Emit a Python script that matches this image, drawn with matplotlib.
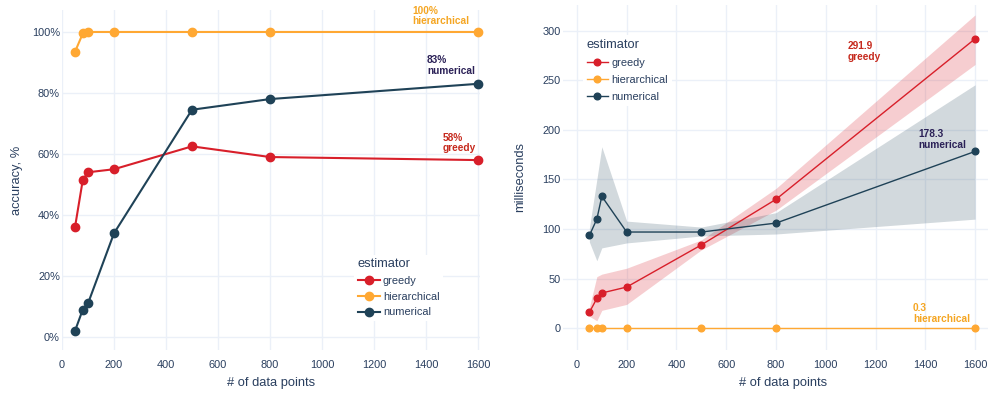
import matplotlib
matplotlib.use("Agg")
import matplotlib.pyplot as plt
from matplotlib.ticker import FuncFormatter

plt.rcParams['font.family'] = ['Liberation Sans', 'DejaVu Sans']

# ---- data -------------------------------------------------------------
n_points = [50, 80, 100, 200, 500, 800, 1600]

acc_greedy = [36.0, 51.5, 54.0, 55.0, 62.5, 59.0, 58.0]
acc_hierarchical = [93.5, 99.5, 100.0, 100.0, 100.0, 100.0, 100.0]
acc_numerical = [2.0, 9.0, 11.0, 34.0, 74.5, 78.0, 83.0]

ms_greedy = [16.0, 30.0, 35.5, 41.5, 84.0, 130.0, 291.9]
ms_greedy_lo = [12.0, 7.5, 18.0, 24.0, 79.0, 119.0, 266.0]
ms_greedy_hi = [21.0, 52.0, 54.5, 60.5, 89.0, 141.0, 316.0]

ms_hierarchical = [0.3, 0.3, 0.3, 0.3, 0.3, 0.3, 0.3]

ms_numerical = [93.5, 110.0, 133.0, 97.0, 97.0, 106.0, 178.3]
ms_numerical_lo = [87.0, 68.0, 81.0, 86.0, 93.0, 95.0, 110.0]
ms_numerical_hi = [101.0, 150.0, 183.0, 108.0, 102.0, 116.5, 245.5]

series_names = ["greedy", "hierarchical", "numerical"]

# ---- styling ----------------------------------------------------------
C_RED = "#d81f2a"
C_ORANGE = "#ffa833"
C_NAVY = "#1f4257"
C_TXT = "#2a3f5f"
C_GRID = "#ebf0f8"
ANN_COLORS = {"greedy": "#c62a1e", "hierarchical": "#f5a623", "numerical": "#2b2157"}

W, H = 990, 395
fig = plt.figure(figsize=(W / 100, H / 100), dpi=100)


def px_box(x0, y0, x1, y1):
    return [x0 / W, 1 - y1 / H, (x1 - x0) / W, (y1 - y0) / H]


def style_axes(ax):
    for s in ax.spines.values():
        s.set_visible(False)
    ax.grid(True, color=C_GRID, linewidth=1.0)
    ax.set_axisbelow(True)
    ax.tick_params(length=0, labelsize=7.9, labelcolor=C_TXT)
    ax.tick_params(axis='x', pad=7)
    ax.tick_params(axis='y', pad=1.5)
    ax.set_xticks(range(0, 1601, 200))


def add_legend(ax, handles, anchor_px, spacing, hlen, tpad):
    leg = ax.legend(handles=handles, labels=series_names, title="estimator",
                    loc="upper left",
                    bbox_to_anchor=(anchor_px[0] / W, 1 - anchor_px[1] / H),
                    bbox_transform=fig.transFigure,
                    frameon=True, facecolor="white", edgecolor="none",
                    framealpha=1.0, fancybox=False,
                    fontsize=7.9, title_fontsize=9.3, alignment="left",
                    handlelength=hlen, handletextpad=tpad, labelspacing=spacing,
                    borderpad=0.35, borderaxespad=0)
    leg.get_title().set_color(C_TXT)
    for t in leg.get_texts():
        t.set_color(C_TXT)
    return leg


def end_label(ax, x, y, text, color, dx, dy):
    ax.annotate(text, xy=(x, y), xytext=(dx, dy), textcoords="offset pixels",
                ha="right", va="center", multialignment="left",
                fontsize=7.3, fontweight="bold", color=color, linespacing=1.1)


# ---- left: accuracy ---------------------------------------------------
ax1 = fig.add_axes(px_box(62, 10, 480, 350))
style_axes(ax1)
lw1, ms1 = 1.5, 6.0
h1 = []
for ys, c in [(acc_greedy, C_RED), (acc_hierarchical, C_ORANGE), (acc_numerical, C_NAVY)]:
    ln, = ax1.plot(n_points, ys, color=c, linewidth=lw1, marker="o",
                   markersize=ms1, zorder=3, clip_on=False)
    h1.append(ln)
ax1.set_xlim(0, 1608)
ax1.set_ylim(-4.26, 107.2)
ax1.set_yticks(range(0, 101, 20))
ax1.yaxis.set_major_formatter(FuncFormatter(lambda v, p: f"{v:.0f}%"))
ax1.set_xlabel("# of data points", fontsize=9.3, color=C_TXT)
ax1.xaxis.set_label_coords(0.5, (350 - 377) / 340)
ax1.set_ylabel("accuracy, %", fontsize=9.3, color=C_TXT)
ax1.yaxis.set_label_coords((23 - 62) / 418, 0.5)
add_legend(ax1, h1, (354, 254.5), 0.52, 2.0, 0.28)

end_label(ax1, n_points[-1], acc_hierarchical[-1],
          f"{acc_hierarchical[-1]:.0f}%\nhierarchical", ANN_COLORS["hierarchical"], -9, 16)
end_label(ax1, n_points[-1], acc_numerical[-1],
          f"{acc_numerical[-1]:.0f}%\nnumerical", ANN_COLORS["numerical"], -3, 18)
end_label(ax1, n_points[-1], acc_greedy[-1],
          f"{acc_greedy[-1]:.0f}%\ngreedy", ANN_COLORS["greedy"], -2, 17)

# ---- right: run time --------------------------------------------------
ax2 = fig.add_axes(px_box(563, 5, 988, 350))
style_axes(ax2)
lw2, ms2 = 1.0, 4.8
ax2.fill_between(n_points, ms_greedy_lo, ms_greedy_hi, color=C_RED,
                 alpha=0.22, linewidth=0, zorder=2)
ax2.fill_between(n_points, ms_numerical_lo, ms_numerical_hi, color=C_NAVY,
                 alpha=0.2, linewidth=0, zorder=2)
h2 = []
for ys, c in [(ms_greedy, C_RED), (ms_hierarchical, C_ORANGE), (ms_numerical, C_NAVY)]:
    ln, = ax2.plot(n_points, ys, color=c, linewidth=lw2, marker="o",
                   markersize=ms2, zorder=3)
    h2.append(ln)
ax2.set_xlim(-56, 1652)
ax2.set_ylim(-22, 326)
ax2.set_yticks(range(0, 301, 50))
ax2.set_xlabel("# of data points", fontsize=9.3, color=C_TXT)
ax2.xaxis.set_label_coords((783 - 563) / 425, (350 - 377) / 345)
ax2.set_ylabel("milliseconds", fontsize=9.3, color=C_TXT)
ax2.yaxis.set_label_coords((526 - 563) / 425, 0.5)
add_legend(ax2, h2, (583, 35), 0.64, 1.9, 0.35)

end_label(ax2, n_points[-1], ms_greedy[-1],
          f"{ms_greedy[-1]:.1f}\ngreedy", ANN_COLORS["greedy"], -94, -13)
end_label(ax2, n_points[-1], ms_numerical[-1],
          f"{ms_numerical[-1]:.1f}\nnumerical", ANN_COLORS["numerical"], -9, 12)
end_label(ax2, n_points[-1], ms_hierarchical[-1],
          f"{ms_hierarchical[-1]:.1f}\nhierarchical", ANN_COLORS["hierarchical"], -5, 14)

fig.savefig("out.png", dpi=100, facecolor="white")
